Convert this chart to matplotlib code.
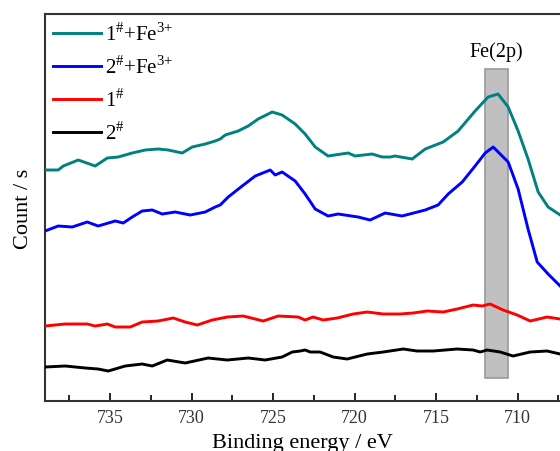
import matplotlib
matplotlib.use("Agg")
import matplotlib.pyplot as plt
from matplotlib.ticker import MultipleLocator

plt.rcParams['font.family'] = ['Liberation Serif', 'DejaVu Serif']
plt.rcParams['mathtext.fontset'] = 'custom'
plt.rcParams['mathtext.rm'] = 'Liberation Serif'

# binding energy (eV) and intensity (arb. counts)
e_teal = [739.0, 738.19, 737.88, 736.96, 735.92, 735.18, 734.51, 733.65, 732.85, 732.06,
          731.44, 730.58, 729.97, 729.17, 728.56, 728.25, 727.94, 727.15, 726.53, 725.92,
          725.06, 724.45, 723.65, 723.04, 722.42, 721.63, 720.40, 719.97, 718.93, 718.31,
          717.82, 717.52, 716.47, 715.67, 714.57, 713.65, 712.61, 711.81, 711.20, 710.58,
          709.97, 709.36, 708.74, 708.13, 707.39]
i_teal = [231, 231, 235, 241, 235, 243, 244, 248, 251, 252,
          251, 248, 254, 257, 260, 262, 266, 270, 275, 282,
          289, 286, 277, 267, 254, 245, 248, 245, 247, 244,
          244, 245, 242, 252, 259, 270, 290, 304, 307, 294,
          270, 242, 209, 194, 186]

e_blue = [739.0, 738.19, 737.33, 736.41, 735.74, 734.69, 734.20, 733.65, 733.04, 732.42,
          731.81, 731.01, 730.09, 729.17, 728.56, 728.25, 727.76, 726.90, 726.10, 725.18,
          724.88, 724.45, 723.65, 723.04, 722.42, 721.63, 721.01, 719.79, 719.05, 718.13,
          717.09, 715.67, 714.88, 714.26, 713.40, 712.61, 711.99, 711.50, 710.95, 710.58,
          709.97, 709.36, 708.80, 708.13, 707.39]
i_blue = [170, 175, 174, 179, 175, 180, 178, 184, 190, 191,
          187, 189, 186, 189, 194, 196, 204, 215, 225, 231,
          226, 229, 220, 207, 192, 185, 187, 184, 181, 188,
          185, 191, 196, 207, 219, 235, 248, 254, 245, 239,
          212, 172, 139, 127, 115]

e_red = [739.0, 737.76, 736.41, 735.92, 735.18, 734.69, 733.77, 733.04, 732.06, 731.13,
         730.40, 729.66, 728.74, 727.82, 726.84, 725.61, 724.69, 723.47, 723.04, 722.55,
         721.93, 721.07, 720.09, 719.23, 718.25, 717.21, 716.41, 715.55, 714.57, 713.71,
         712.73, 712.18, 711.69, 710.89, 710.03, 709.23, 708.19, 707.39]
i_red = [75, 77, 77, 75, 77, 74, 74, 79, 80, 83,
         79, 76, 81, 84, 85, 80, 85, 84, 81, 84,
         81, 83, 87, 89, 87, 87, 88, 90, 89, 92,
         96, 95, 97, 91, 86, 80, 84, 82]

e_black = [739.0, 737.76, 736.53, 735.74, 735.12, 734.08, 733.04, 732.42, 731.50, 730.40,
           728.99, 727.82, 726.53, 725.49, 724.45, 723.83, 723.34, 723.04, 722.73, 722.12,
           721.32, 720.46, 719.23, 718.25, 717.02, 716.17, 715.18, 713.71, 712.73, 712.30,
           711.87, 711.07, 710.28, 709.23, 708.19, 707.39]
i_black = [34, 35, 33, 32, 30, 35, 37, 35, 41, 38,
           43, 41, 43, 41, 44, 49, 50, 51, 49, 49,
           44, 42, 47, 49, 52, 50, 50, 52, 51, 49,
           51, 49, 45, 49, 50, 47]

labels = [r'1$^{\#}$+Fe$^{3{+}}$', r'2$^{\#}$+Fe$^{3{+}}$', r'1$^{\#}$', r'2$^{\#}$']
colors = ['#008080', '#0000ff', '#ff0000', '#000000']

band_lo, band_hi = 710.6, 712.0

fig = plt.figure(figsize=(5.6, 4.52), dpi=100)
ax = fig.add_axes([0.0804, 0.1106, 0.9196, 0.8562])

ax.axvspan(band_lo, band_hi, ymin=0.059, ymax=0.858, facecolor='#c0c0c0',
           edgecolor='#9a9a9a', linewidth=1.2, zorder=1)
ax.text((band_lo + band_hi) / 2, 350, 'Fe(2p)', ha='center', va='center', fontsize=14.5)

for e, i, c, lab in zip([e_teal, e_blue, e_red, e_black],
                        [i_teal, i_blue, i_red, i_black], colors, labels):
    ax.plot(e, i, color=c, lw=2.1, label=lab, zorder=3)

ax.set_xlim(739, 707.4)
ax.set_ylim(0, 387)
ax.xaxis.set_major_locator(MultipleLocator(5))
ax.xaxis.set_minor_locator(MultipleLocator(2.5))
ax.tick_params(axis='x', which='major', direction='in', length=6, width=1.2,
               labelsize=13, pad=6, top=False, labelcolor='#333333')
ax.tick_params(axis='x', which='minor', direction='in', length=4, width=1.2, top=False)
ax.set_yticks([])
ax.spines['right'].set_visible(False)
for s in ax.spines.values():
    s.set_linewidth(1.5)
    s.set_color('#333333')

ax.set_xlabel('Binding energy / eV', fontsize=16, labelpad=5)
ax.set_ylabel('Count / s', fontsize=16, labelpad=9)

ax.legend(loc='upper left', frameon=False, fontsize=15, handlelength=2.3,
          handletextpad=0.2, labelspacing=0.5, borderaxespad=0.2, borderpad=0.2)

fig.savefig('out.png', dpi=100)
